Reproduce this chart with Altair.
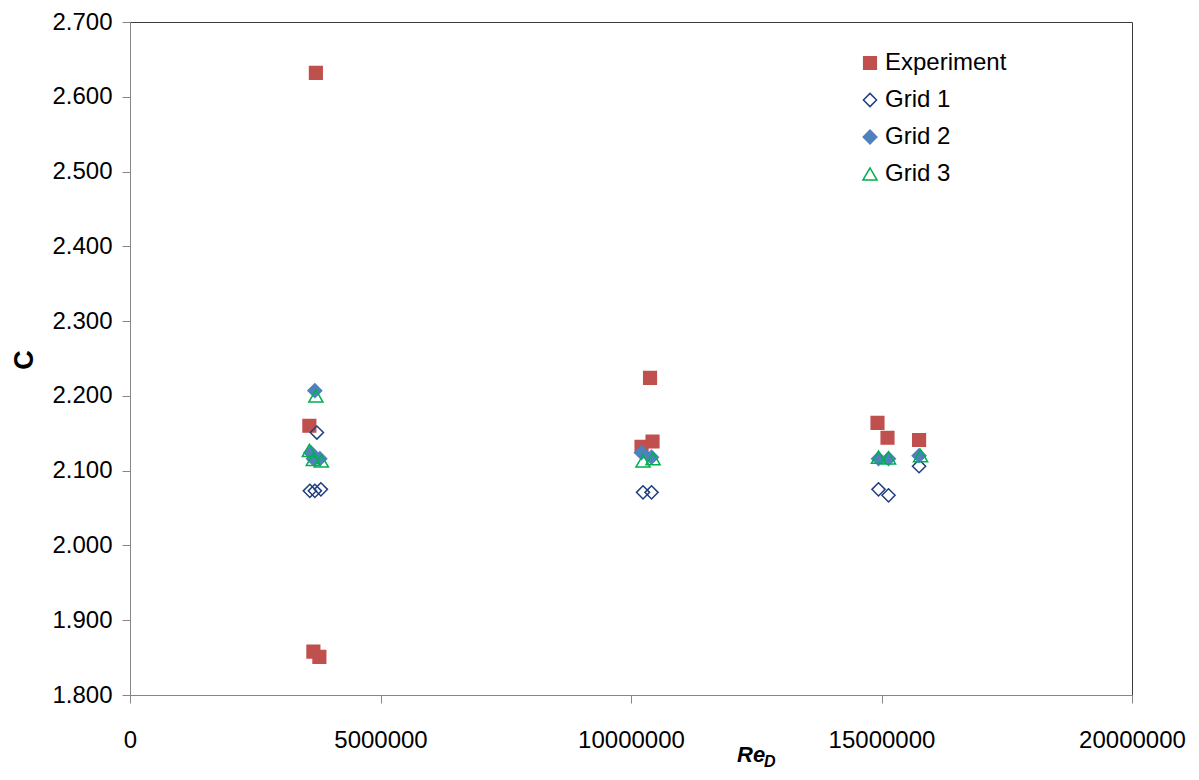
import altair as alt
import pandas as pd

series_names = ["Experiment", "Grid 1", "Grid 2", "Grid 3"]

exp_x = [3.71e6, 3.58e6, 3.66e6, 3.78e6, 10.38e6, 10.21e6, 10.43e6, 14.92e6, 15.12e6, 15.75e6]
exp_y = [2.632, 2.160, 1.858, 1.851, 2.224, 2.132, 2.139, 2.164, 2.144, 2.141]

grid1_x = [3.59e6, 3.69e6, 3.81e6, 3.73e6, 10.24e6, 10.41e6, 14.94e6, 15.14e6, 15.75e6]
grid1_y = [2.073, 2.073, 2.075, 2.151, 2.071, 2.071, 2.075, 2.067, 2.106]

grid2_x = [3.69e6, 3.61e6, 3.66e6, 3.79e6, 10.21e6, 10.41e6, 14.94e6, 15.14e6, 15.75e6]
grid2_y = [2.207, 2.124, 2.116, 2.116, 2.124, 2.118, 2.116, 2.116, 2.120]

grid3_x = [3.71e6, 3.58e6, 3.66e6, 3.82e6, 10.24e6, 10.44e6, 14.94e6, 15.14e6, 15.78e6]
grid3_y = [2.200, 2.127, 2.115, 2.113, 2.113, 2.116, 2.118, 2.117, 2.120]

x_ticks = [0, 5000000, 10000000, 15000000, 20000000]
y_ticks = [1.8, 1.9, 2.0, 2.1, 2.2, 2.3, 2.4, 2.5, 2.6, 2.7]

shapes = ["square", "diamond", "diamond", "triangle-up"]
strokes = ["#C0504D", "#1F3F7F", "#4F81BD", "#00B050"]
fills = ["#C0504D", "transparent", "#4F81BD", "transparent"]
sizes = [160, 200, 130, 180]

rows = []
for name, xs, ys in zip(series_names,
                        [exp_x, grid1_x, grid2_x, grid3_x],
                        [exp_y, grid1_y, grid2_y, grid3_y]):
    for xv, yv in zip(xs, ys):
        rows.append({"series": name, "Re": xv, "C": yv})
df = pd.DataFrame(rows)

FONT = "Liberation Sans"

legend = alt.Legend(
    title=None, orient="none", legendX=728, legendY=29,
    labelFontSize=24, labelFont=FONT, labelColor="#000000",
    rowPadding=13, padding=0, labelOffset=3, symbolStrokeWidth=1.5,
)

points = alt.Chart(df).mark_point(opacity=1, strokeWidth=1.5).encode(
    x=alt.X("Re:Q", scale=alt.Scale(domain=[0, 20000000], nice=False),
            axis=alt.Axis(values=x_ticks, format="d", title=None, grid=False,
                          labelFontSize=24, labelFont=FONT, labelColor="#000000",
                          domainColor="#868686", tickColor="#868686", tickSize=8,
                          labelPadding=25, labelFlush=False)),
    y=alt.Y("C:Q", scale=alt.Scale(domain=[1.8, 2.7], nice=False, zero=False),
            axis=alt.Axis(values=y_ticks, format=".3f", title=None, grid=False,
                          labelFontSize=24, labelFont=FONT, labelColor="#000000",
                          domainColor="#868686", tickColor="#868686", tickSize=8,
                          labelPadding=10)),
    shape=alt.Shape("series:N", scale=alt.Scale(domain=series_names, range=shapes), legend=legend),
    stroke=alt.Stroke("series:N", scale=alt.Scale(domain=series_names, range=strokes), legend=legend),
    fill=alt.Fill("series:N", scale=alt.Scale(domain=series_names, range=fills), legend=legend),
    size=alt.Size("series:N", scale=alt.Scale(domain=series_names, range=sizes), legend=legend),
)

ytitle = alt.Chart(pd.DataFrame({"t": ["C"]})).mark_text(
    font=FONT, fontSize=27, fontWeight="bold", angle=270,
    align="center", baseline="middle", color="#000000"
).encode(x=alt.value(-105), y=alt.value(338), text="t:N")

xtitle = alt.Chart(pd.DataFrame({"t": ["Re"]})).mark_text(
    font=FONT, fontSize=22, fontWeight="bold", fontStyle="italic",
    align="left", baseline="alphabetic", color="#000000"
).encode(x=alt.value(607), y=alt.value(740), text="t:N")

xsub = alt.Chart(pd.DataFrame({"t": ["D"]})).mark_text(
    font=FONT, fontSize=16, fontWeight="bold", fontStyle="italic",
    align="left", baseline="alphabetic", color="#000000"
).encode(x=alt.value(634), y=alt.value(745), text="t:N")

chart = alt.layer(points, ytitle, xtitle, xsub).properties(
    width=1002, height=673,
    autosize=alt.AutoSizeParams(type="none"),
    padding={"left": 122, "top": 14, "right": 58, "bottom": 76},
).configure_view(stroke="#3c3c3c", strokeWidth=1)

chart.save("out.html", embed_options={"renderer": "svg", "actions": False})
